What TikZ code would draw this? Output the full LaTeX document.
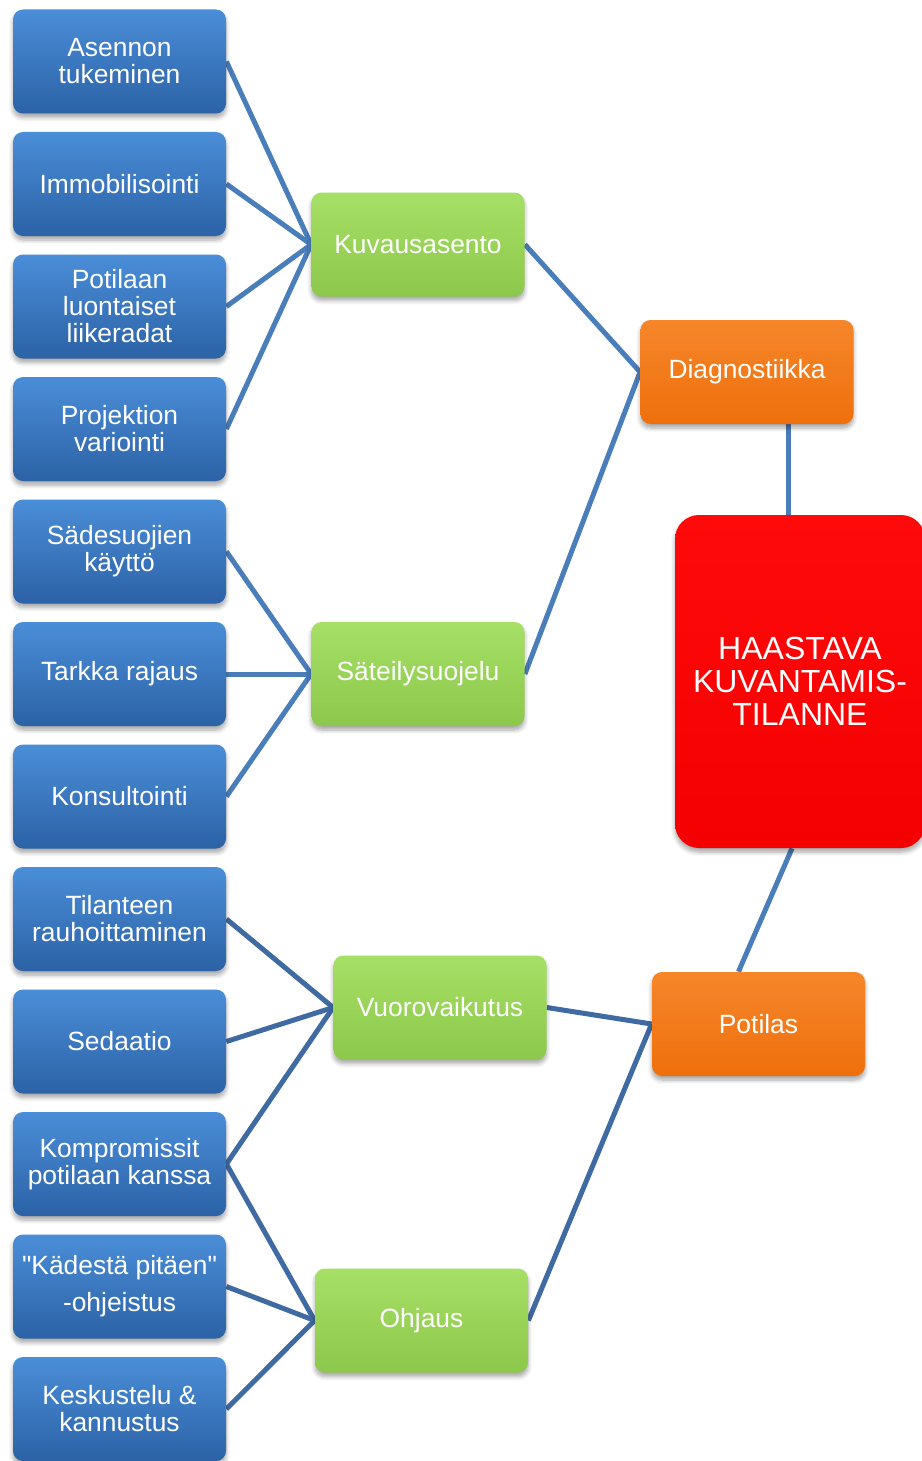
\documentclass[tikz,border=0pt]{standalone}
\usepackage{fontspec}
\setmainfont{Liberation Sans}[Ligatures=TeXOff]
\usetikzlibrary{shadows.blur,backgrounds}
\definecolor{bluetop}{HTML}{4A8ED8}
\definecolor{bluebot}{HTML}{2C62A6}
\definecolor{greentop}{HTML}{A6E066}
\definecolor{greenbot}{HTML}{8CC84C}
\definecolor{orangetop}{HTML}{F6862A}
\definecolor{orangebot}{HTML}{EE700C}
\definecolor{redtop}{HTML}{FF0A0A}
\definecolor{redbot}{HTML}{F40000}
\definecolor{linea}{HTML}{4A7EBB}
\definecolor{lineb}{HTML}{3F6AA2}
\begin{document}
\begin{tikzpicture}[x=0.5pt,y=-0.5pt,
  box/.style={rounded corners=5pt, minimum width=106.5pt, minimum height=52pt,
    align=center, text=white, inner sep=0pt,
    font=\fontsize{13.2}{13.5}\selectfont,
    blur shadow={shadow xshift=0pt, shadow yshift=-2pt, shadow blur steps=6, shadow opacity=35}},
  bluebox/.style={box, top color=bluetop, bottom color=bluebot},
  greenbox/.style={box, top color=greentop, bottom color=greenbot},
  orangebox/.style={box, top color=orangetop, bottom color=orangebot},
  redbox/.style={box, rounded corners=12pt, minimum width=125pt, minimum height=166.5pt,
    top color=redtop, bottom color=redbot, font=\fontsize{16}{16.5}\selectfont},
  conn/.style={draw=linea, line width=2.5pt},
  connb/.style={draw=lineb, line width=2.5pt}]
\useasboundingbox (0,0) rectangle (921,1461);

% blue boxes
\node[bluebox] (b1) at (119.5,61.5) {Asennon\\tukeminen};
\node[bluebox] (b2) at (119.5,184) {Immobilisointi};
\node[bluebox] (b3) at (119.5,306.5) {Potilaan\\luontaiset\\liikeradat};
\node[bluebox] (b4) at (119.5,429) {Projektion\\variointi};
\node[bluebox] (b5) at (119.5,551.5) {Sädesuojien\\käyttö};
\node[bluebox] (b6) at (119.5,674) {Tarkka rajaus};
\node[bluebox] (b7) at (119.5,796.5) {Konsultointi};
\node[bluebox] (b8) at (119.5,919) {Tilanteen\\rauhoittaminen};
\node[bluebox] (b9) at (119.5,1041.5) {Sedaatio};
\node[bluebox] (b10) at (119.5,1164) {Kompromissit\\potilaan kanssa};
\node[bluebox] (b11) at (119.5,1286.5) {"Kädestä pitäen"\\[5pt]-ohjeistus};
\node[bluebox] (b12) at (119.5,1409) {Keskustelu \&\\kannustus};

% green boxes
\node[greenbox] (kuv) at (418,244.5) {Kuvausasento};
\node[greenbox] (sat) at (418,674) {Säteilysuojelu};
\node[greenbox] (vuo) at (440,1007.5) {Vuorovaikutus};
\node[greenbox] (ohj) at (421.5,1320.5) {Ohjaus};

% orange boxes
\node[orangebox] (dia) at (747,372) {Diagnostiikka};
\node[orangebox] (pot) at (758.5,1024) {Potilas};

% red box
\node[redbox] (red) at (800,681.5) {HAASTAVA\\KUVANTAMIS-\\TILANNE};

\begin{scope}[on background layer]
  \foreach \b in {b1,b2,b3,b4} \draw[conn] (\b.east) -- (kuv.west);
  \foreach \b in {b5,b6,b7} \draw[conn] (\b.east) -- (sat.west);
  \foreach \b in {b8,b9,b10} \draw[connb] (\b.east) -- (vuo.west);
  \foreach \b in {b10,b11,b12} \draw[connb] (\b.east) -- (ohj.west);
  \draw[conn] (kuv.east) -- (dia.west);
  \draw[conn] (sat.east) -- (dia.west);
  \draw[conn] ([xshift=20.5pt]dia.south) -- ([xshift=20.5pt]dia.south |- red.north);
  \draw[conn] ([xshift=-4pt]red.south) -- ([xshift=-10pt]pot.north);
  \draw[connb] (vuo.east) -- (pot.west);
  \draw[connb] (ohj.east) -- (pot.west);
\end{scope}
\end{tikzpicture}
\end{document}
